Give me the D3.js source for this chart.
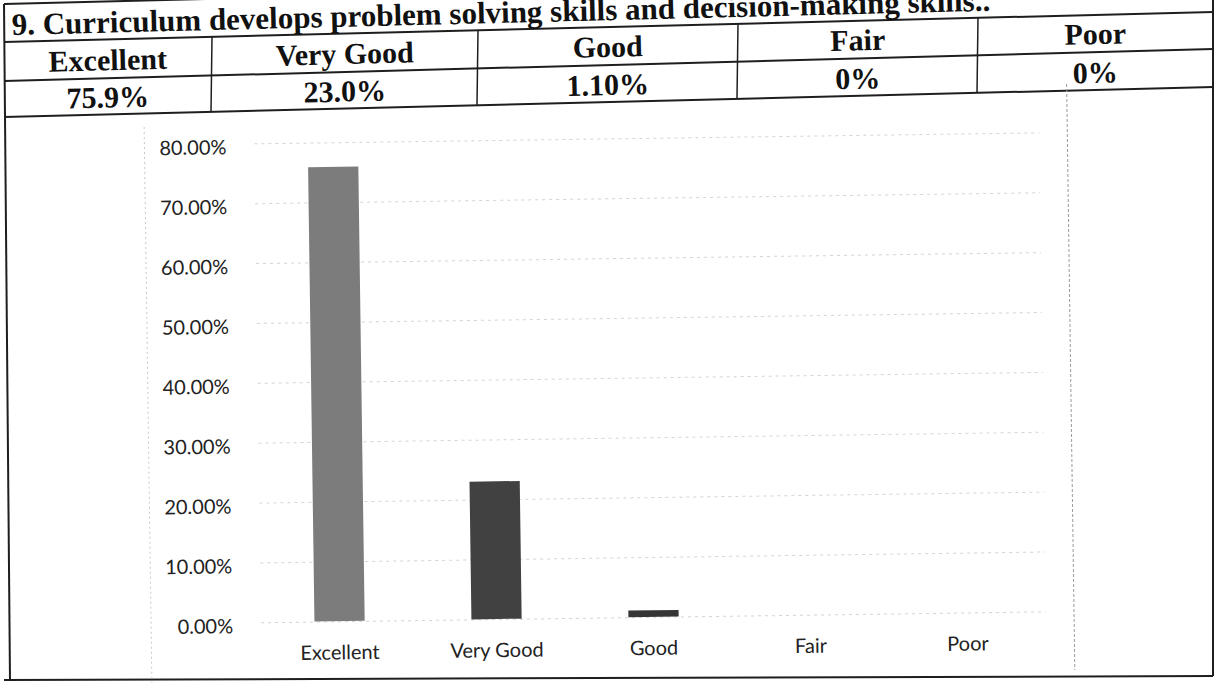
<!DOCTYPE html>
<html lang="en">
<head>
    <meta charset="UTF-8">
    <title>Curriculum chart</title>
    <style>
        body { margin: 0; background: #fff; }
        svg { display: block; }
    </style>
</head>
<body>
    <svg id="chart" width="1219" height="684"></svg>

<script src="https://d3js.org/d3.v7.min.js"></script>
<script>

let title = "9. Curriculum develops problem solving skills and decision-making skills..";
let categories = ["Excellent", "Very Good", "Good", "Fair", "Poor"];
let percentages = [75.9, 23.0, 1.1, 0, 0];
let tableValues = ["75.9%", "23.0%", "1.10%", "0%", "0%"];
let yTicks = [0, 10, 20, 30, 40, 50, 60, 70, 80];
let barColors = ["#7c7c7c", "#414141", "#353535", "#555", "#555"];

let data = categories.map((c, i) => ({name: c, value: percentages[i], label: tableValues[i], color: barColors[i]}));

let svg = d3.select("#chart");

// the scan is a bit skewed, so table lines go up towards the right
let tableLeft = 4, tableRight = 1213;
let rowLines = [
    {l: 4, r: -26},
    {l: 42, r: 12},
    {l: 81, r: 49},
    {l: 117, r: 87}
];
let bottomLine = {l: 680, r: 676};
let colEdges = [4, 212, 478, 738, 978, 1213];
let tilt = Math.atan2(rowLines[1].r - rowLines[1].l, tableRight - tableLeft) * 180 / Math.PI;

function yAt(line, x) {
    return line.l + (line.r - line.l) * (x - tableLeft) / (tableRight - tableLeft);
}

let table = svg.append("g")
    .attr("stroke", "#1e1e1e")
    .attr("stroke-width", 2);

table.selectAll("line.row")
    .data(rowLines.concat([bottomLine]))
    .enter()
    .append("line")
    .attr("class", "row")
    .attr("x1", tableLeft)
    .attr("x2", tableRight)
    .attr("y1", d => d.l)
    .attr("y2", d => d.r);

// outer borders
table.append("line")
    .attr("x1", tableLeft).attr("y1", rowLines[0].l)
    .attr("x2", tableLeft + 6).attr("y2", bottomLine.l);
table.append("line")
    .attr("x1", tableRight).attr("y1", 0)
    .attr("x2", tableRight).attr("y2", bottomLine.r);

// column dividers in header and value rows
table.selectAll("line.col")
    .data(colEdges.slice(1, -1))
    .enter()
    .append("line")
    .attr("class", "col")
    .attr("stroke-width", 1.5)
    .attr("x1", d => d)
    .attr("x2", d => d - 1)
    .attr("y1", d => yAt(rowLines[1], d))
    .attr("y2", d => yAt(rowLines[3], d));

let serif = "'Liberation Serif', 'Times New Roman', serif";

svg.append("text")
    .attr("x", 12)
    .attr("y", rowLines[1].l - 7)
    .attr("transform", "rotate(" + tilt + ",12," + (rowLines[1].l - 7) + ")")
    .attr("font-family", serif)
    .attr("font-weight", "bold")
    .attr("font-size", 31)
    .attr("fill", "#111")
    .text(title);

let cells = svg.append("g")
    .attr("font-family", serif)
    .attr("font-weight", "bold")
    .attr("font-size", 30)
    .attr("fill", "#111")
    .attr("text-anchor", "middle");

function colCenter(i) { return (colEdges[i] + colEdges[i + 1]) / 2; }

cells.selectAll("text.head")
    .data(data)
    .enter()
    .append("text")
    .attr("class", "head")
    .attr("x", (d, i) => colCenter(i))
    .attr("y", (d, i) => yAt(rowLines[2], colCenter(i)) - 8)
    .attr("transform", (d, i) => "rotate(" + tilt + "," + colCenter(i) + "," + (yAt(rowLines[2], colCenter(i)) - 8) + ")")
    .text(d => d.name);

cells.selectAll("text.val")
    .data(data)
    .enter()
    .append("text")
    .attr("class", "val")
    .attr("x", (d, i) => colCenter(i))
    .attr("y", (d, i) => yAt(rowLines[3], colCenter(i)) - 7)
    .attr("transform", (d, i) => "rotate(" + tilt + "," + colCenter(i) + "," + (yAt(rowLines[3], colCenter(i)) - 7) + ")")
    .text(d => d.label);

// ---- the bar chart ----
let plot = {left: 258, right: 1043, top: 138, bottom: 617};

let chart = svg.append("g")
    .attr("transform", "rotate(-0.8,640,400)");

// faint chart area border
chart.append("line")
    .attr("x1", 148).attr("x2", 148)
    .attr("y1", 120).attr("y2", 676)
    .attr("stroke", "#c8c8c8")
    .attr("stroke-dasharray", "2,3");
chart.append("line")
    .attr("x1", 1071).attr("x2", 1071)
    .attr("y1", 90).attr("y2", 676)
    .attr("stroke", "#9a9a9a")
    .attr("stroke-dasharray", "3,2");

let xScale = d3.scaleBand()
    .domain(categories)
    .range([plot.left, plot.right])
    .paddingInner(0.68)
    .paddingOuter(0.34);

let yScale = d3.scaleLinear()
    .domain([0, 80])
    .range([plot.bottom, plot.top]);

let yAxis = chart.append("g")
    .attr("transform", "translate(" + plot.left + ",0)")
    .call(d3.axisLeft(yScale)
        .tickValues(yTicks)
        .tickSize(-(plot.right - plot.left))
        .tickPadding(28)
        .tickFormat(d => d.toFixed(2) + "%"));

yAxis.select(".domain").remove();
yAxis.selectAll(".tick line")
    .attr("stroke", "#d4d4d4")
    .attr("stroke-dasharray", "3,4");
yAxis.selectAll(".tick text")
    .attr("font-family", "Lato, 'Open Sans', sans-serif")
    .attr("font-size", 20)
    .attr("fill", "#222")
    .attr("dy", "0.5em");

chart.selectAll("rect.bar")
    .data(data)
    .enter()
    .append("rect")
    .attr("class", "bar")
    .attr("x", d => xScale(d.name))
    .attr("width", xScale.bandwidth())
    .attr("y", d => yScale(d.value))
    .attr("height", d => yScale(0) - yScale(d.value))
    .attr("fill", d => d.color);

let xAxis = chart.append("g")
    .attr("transform", "translate(0," + plot.bottom + ")")
    .call(d3.axisBottom(xScale).tickSize(0).tickPadding(24));

xAxis.select(".domain").remove();
xAxis.selectAll(".tick text")
    .attr("font-family", "Lato, 'Open Sans', sans-serif")
    .attr("font-size", 20)
    .attr("fill", "#222");

</script>
</body>
</html>
